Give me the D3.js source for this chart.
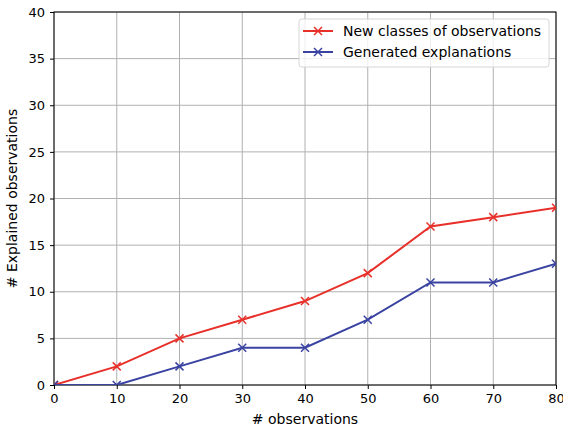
<!DOCTYPE html>
<html lang="en">
<head>
<meta charset="UTF-8">
<title>Explained observations</title>
<script src="https://d3js.org/d3.v7.min.js"></script>
<style>
  body { margin: 0; background: #fff; }
  text { font-family: "DejaVu Sans", sans-serif; }
</style>
</head>
<body>
<div id="chart"></div>
<script>
// data
const xValues = [0, 10, 20, 30, 40, 50, 60, 70, 80];
const newClasses = [0, 2, 5, 7, 9, 12, 17, 18, 19];
const generatedExpl = [0, 0, 2, 4, 4, 7, 11, 11, 13];
const xTicks = [0, 10, 20, 30, 40, 50, 60, 70, 80];
const yTicks = [0, 5, 10, 15, 20, 25, 30, 35, 40];
const seriesNames = ["New classes of observations", "Generated explanations"];
const seriesColors = ["#e8302a", "#3a43a2"];

const W = 563, H = 429;
const margin = { top: 12, right: 7, bottom: 44, left: 54 };
const width = W - margin.left - margin.right;
const height = H - margin.top - margin.bottom;

const svg = d3.select("#chart").append("svg")
  .attr("width", W).attr("height", H);
const g = svg.append("g")
  .attr("transform", "translate(" + margin.left + "," + margin.top + ")");

const x = d3.scaleLinear().domain([0, 80]).range([0, width]);
const y = d3.scaleLinear().domain([0, 40]).range([height, 0]);

// grid
g.append("g").selectAll("line").data(xTicks).join("line")
  .attr("x1", d => x(d)).attr("x2", d => x(d))
  .attr("y1", 0).attr("y2", height)
  .attr("stroke", "#b0b0b0").attr("stroke-width", 1);
g.append("g").selectAll("line").data(yTicks).join("line")
  .attr("x1", 0).attr("x2", width)
  .attr("y1", d => y(d)).attr("y2", d => y(d))
  .attr("stroke", "#b0b0b0").attr("stroke-width", 1);

// axes
const xAxis = g.append("g")
  .attr("transform", "translate(0," + height + ")")
  .call(d3.axisBottom(x).tickValues(xTicks).tickSize(4).tickPadding(5));
const yAxis = g.append("g")
  .call(d3.axisLeft(y).tickValues(yTicks).tickSize(4).tickPadding(5));
[xAxis, yAxis].forEach(a => {
  a.selectAll("text").attr("font-size", 13).attr("fill", "#000")
    .attr("font-family", "DejaVu Sans, sans-serif");
  a.selectAll("line").attr("stroke", "#000");
  a.select(".domain").remove();
});

// frame
g.append("rect").attr("width", width).attr("height", height)
  .attr("fill", "none").attr("stroke", "#000").attr("stroke-width", 1);

g.append("clipPath").attr("id", "clip").append("rect")
  .attr("width", width).attr("height", height);

const line = d3.line().x((d, i) => x(xValues[i])).y(d => y(d));
const plot = g.append("g").attr("clip-path", "url(#clip)");

[newClasses, generatedExpl].forEach((vals, k) => {
  plot.append("path").datum(vals)
    .attr("fill", "none").attr("stroke", seriesColors[k])
    .attr("stroke-width", 2).attr("d", line);
  plot.append("g").selectAll("path").data(vals).join("path")
    .attr("transform", (d, i) => "translate(" + x(xValues[i]) + "," + y(d) + ")")
    .attr("d", "M-4,-4L4,4M-4,4L4,-4")
    .attr("stroke", seriesColors[k]).attr("stroke-width", 1.5);
});

// legend
const leg = g.append("g").attr("transform", "translate(245,7)");
leg.append("rect").attr("width", 250).attr("height", 48).attr("rx", 3)
  .attr("fill", "rgba(255,255,255,0.8)").attr("stroke", "#d6d6d6");
seriesNames.forEach((name, k) => {
  const ly = 12 + k * 21;
  leg.append("line").attr("x1", 4).attr("x2", 34).attr("y1", ly).attr("y2", ly)
    .attr("stroke", seriesColors[k]).attr("stroke-width", 2);
  leg.append("path").attr("transform", "translate(19," + ly + ")")
    .attr("d", "M-4,-4L4,4M-4,4L4,-4")
    .attr("stroke", seriesColors[k]).attr("stroke-width", 1.5);
  leg.append("text").attr("x", 44).attr("y", ly).attr("dy", "0.35em")
    .attr("font-size", 14).text(name);
});

// axis labels
svg.append("text").attr("x", margin.left + width / 2).attr("y", 424)
  .attr("text-anchor", "middle").attr("font-size", 14).text("# observations");
svg.append("text")
  .attr("transform", "translate(17," + (margin.top + height / 2) + ") rotate(-90)")
  .attr("text-anchor", "middle").attr("font-size", 14).text("# Explained observations");
</script>
</body>
</html>
